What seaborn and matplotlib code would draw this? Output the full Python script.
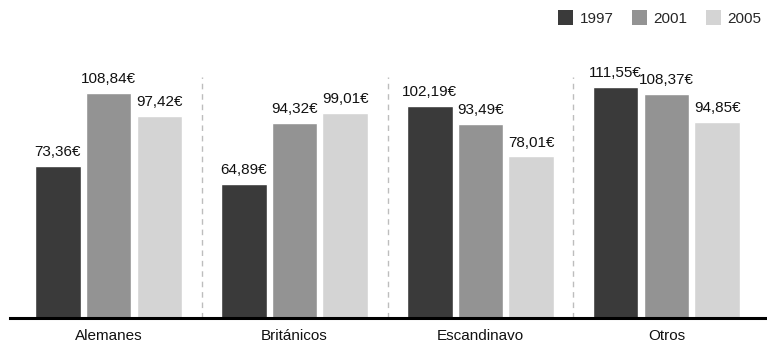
import pandas as pd
import matplotlib.pyplot as plt
import seaborn as sns
from matplotlib.patches import Patch

# Data
groups = ['Alemanes', 'Británicos', 'Escandinavo', 'Otros']
years = ['1997', '2001', '2005']
values_1997 = [73.36, 64.89, 102.19, 111.55]
values_2001 = [108.84, 94.32, 93.49, 108.37]
values_2005 = [97.42, 99.01, 78.01, 94.85]
colors = ['#3a3a3a', '#939393', '#d4d4d4']

sns.set_theme(style='white')
plt.rcParams['font.family'] = ['Liberation Sans', 'DejaVu Sans']

data = pd.DataFrame({
    'Grupo': groups * 3,
    'Año': [y for y in years for _ in groups],
    'Gasto': values_1997 + values_2001 + values_2005,
})

fig = plt.figure(figsize=(7.67, 3.44), dpi=100)
ax = fig.add_axes([10 / 767, 26 / 344, 755 / 767, 258 / 344])

sns.barplot(data=data, x='Grupo', y='Gasto', hue='Año', palette=colors,
            width=0.82, gap=0.1, saturation=1, ax=ax, legend=False)

# value labels with comma decimals
for container in ax.containers:
    labels = [f'{v:.2f}'.replace('.', ',') + '€' for v in container.datavalues]
    ax.bar_label(container, labels=labels, padding=5, fontsize=11, color='#111111')

# dashed separators between groups
ax.vlines([0.5, 1.5, 2.5], 0, 116.5, colors='#bdbdbd', linestyles=(0, (4, 3.5)),
          linewidth=1)

ax.set_xlim(-0.53, 3.53)
ax.set_ylim(0, 124.6)
ax.set_xlabel('')
ax.set_ylabel('')
ax.set_yticks([])
ax.tick_params(axis='x', length=0, pad=8, labelsize=11, colors='#111111')
for side in ['top', 'right', 'left']:
    ax.spines[side].set_visible(False)
ax.spines['bottom'].set_color('black')
ax.spines['bottom'].set_linewidth(2.2)

handles = [Patch(facecolor=c, edgecolor='none') for c in colors]
fig.legend(handles, years, loc='upper right', bbox_to_anchor=(1.0, 0.99),
           borderaxespad=0, ncol=3, frameon=False, fontsize=11,
           handlelength=1.0, handleheight=1.2, handletextpad=0.4,
           columnspacing=1.2)

plt.savefig('out.png', dpi=100)
